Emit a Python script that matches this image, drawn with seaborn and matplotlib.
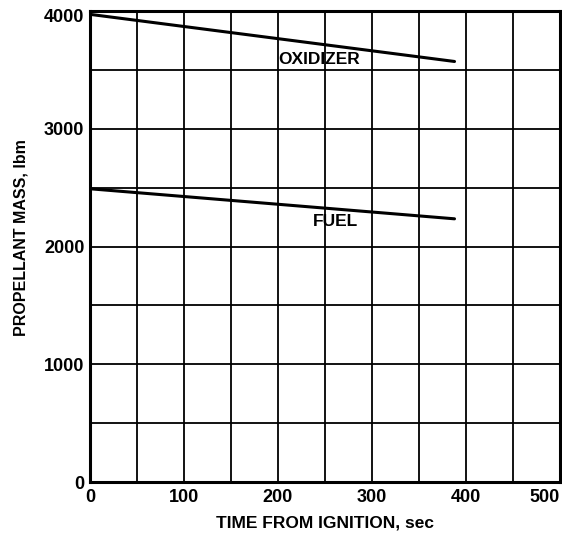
import matplotlib
matplotlib.use("Agg")
import matplotlib.pyplot as plt
import matplotlib.transforms as mtransforms
import seaborn as sns
import pandas as pd
import numpy as np

# Propellant mass remaining versus time from ignition
time_sec = [0, 388]
oxidizer_lbm = [3970, 3570]
fuel_lbm = [2490, 2235]

x_ticks = [0, 100, 200, 300, 400, 500]
y_ticks = [0, 1000, 2000, 3000, 4000]

df = pd.DataFrame({
    "time": time_sec * 2,
    "mass": oxidizer_lbm + fuel_lbm,
    "propellant": ["OXIDIZER"] * 2 + ["FUEL"] * 2,
})

sns.set_theme(style="white", rc={"text.color": "black", "axes.labelcolor": "black",
                                 "xtick.color": "black", "ytick.color": "black"})
plt.rcParams["font.family"] = ["Liberation Sans", "DejaVu Sans"]

fig = plt.figure(figsize=(5.62, 5.40), dpi=100)
ax = fig.add_axes([0.160, 0.107, 0.836, 0.873])

sns.lineplot(data=df, x="time", y="mass", units="propellant", estimator=None,
             color="black", linewidth=2.2, ax=ax, legend=False)

ax.set_xlim(0, 500)
ax.set_ylim(0, 4000)
ax.set_xticks(np.arange(0, 501, 50))
ax.set_yticks(np.arange(0, 4001, 500))
ax.set_xticklabels([str(t) if t in x_ticks else "" for t in range(0, 501, 50)],
                   fontsize=13, fontweight="bold")
ax.set_yticklabels([str(t) if t in y_ticks else "" for t in range(0, 4001, 500)],
                   fontsize=13, fontweight="bold")
ax.tick_params(length=0, labelcolor="black")
ax.tick_params(axis="x", pad=5)
ax.tick_params(axis="y", pad=4)
ax.get_xticklabels()[-1].set_horizontalalignment("right")
# nudge the top label down so it sits inside the figure
top_label = ax.get_yticklabels()[-1]
top_label.set_transform(top_label.get_transform() +
                        mtransforms.ScaledTranslation(0, -5 / 100, fig.dpi_scale_trans))
ax.grid(True, color="black", linewidth=1.3)
for s in ax.spines.values():
    s.set_color("black")
    s.set_linewidth(2.2)

ax.text(200, 3585, "OXIDIZER", fontsize=12.5, fontweight="bold", va="center", ha="left",
        color="black")
ax.text(237, 2210, "FUEL", fontsize=12.5, fontweight="bold", va="center", ha="left",
        color="black")

ax.set_xlabel("TIME FROM IGNITION, sec", fontsize=12.5, fontweight="bold", labelpad=7,
              color="black")
ax.set_ylabel("PROPELLANT MASS, lbm", fontsize=11.5, fontweight="bold", color="black")
ax.yaxis.set_label_coords(-0.13, 0.52)

fig.savefig("out.png", dpi=100)
